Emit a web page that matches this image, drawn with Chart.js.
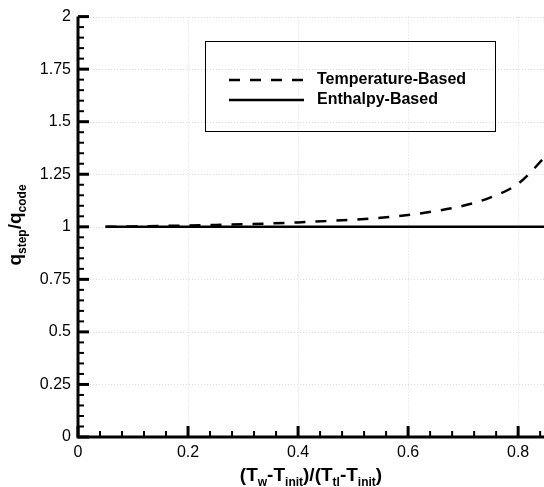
<!DOCTYPE html>
<html>
<head>
<meta charset="utf-8">
<script src="https://cdn.jsdelivr.net/npm/chart.js@4/dist/chart.umd.min.js"></script>
<style>
  html, body { margin: 0; padding: 0; background: #fff; }
  #wrap { width: 544px; height: 487px; }
</style>
</head>
<body>
<div id="wrap"><canvas id="chart" width="544" height="487"></canvas></div>
<script>
// values
const xTemp = [0.05, 0.1, 0.15, 0.2, 0.25, 0.3, 0.35, 0.4, 0.45, 0.5, 0.55, 0.6, 0.65, 0.7, 0.75, 0.8, 0.85];
const tempBased = [1.000, 1.002, 1.004, 1.006, 1.009, 1.012, 1.016, 1.021, 1.027, 1.034, 1.043, 1.056, 1.075, 1.100, 1.140, 1.205, 1.335];
const xEnth = [0.05, 0.85];
const enthBased = [1, 1];
const xTicks = [0, 0.2, 0.4, 0.6, 0.8];
const yTicks = ['0', '0.25', '0.5', '0.75', '1', '1.25', '1.5', '1.75', '2'];
const seriesNames = ['Temperature-Based', 'Enthalpy-Based'];

const FONT = '"Liberation Sans", Arial, sans-serif';

function pts(xs, ys) {
  return xs.map((x, i) => ({ x: x, y: ys[i] }));
}

// draws text with subscripts, parts = [[text, isSub], ...]
function drawRich(c, parts, x, y, size, subSize) {
  let w = 0;
  parts.forEach(p => {
    c.font = 'bold ' + (p[1] ? subSize : size) + 'px ' + FONT;
    w += c.measureText(p[0]).width;
  });
  let cx = x - w / 2;
  parts.forEach(p => {
    c.font = 'bold ' + (p[1] ? subSize : size) + 'px ' + FONT;
    c.fillText(p[0], cx, p[1] ? y + size * 0.25 : y);
    cx += c.measureText(p[0]).width;
  });
}

const framePlugin = {
  id: 'frame',
  beforeDatasetsDraw(chart) {
    const c = chart.ctx, a = chart.chartArea;
    const xs = chart.scales.x, ys = chart.scales.y;
    c.save();
    c.strokeStyle = '#dcdcdc';
    c.lineWidth = 1;
    c.setLineDash([1, 2]);
    xTicks.forEach(v => {
      const px = Math.round(xs.getPixelForValue(v)) + 0.5;
      c.beginPath(); c.moveTo(px, a.top); c.lineTo(px, a.bottom); c.stroke();
    });
    yTicks.forEach(t => {
      const py = Math.round(ys.getPixelForValue(parseFloat(t))) + 0.5;
      c.beginPath(); c.moveTo(a.left, py); c.lineTo(a.right, py); c.stroke();
    });
    c.restore();
  },
  afterDatasetsDraw(chart) {
    const c = chart.ctx, a = chart.chartArea;
    const xs = chart.scales.x, ys = chart.scales.y;
    c.save();
    c.strokeStyle = '#000';
    // minor + major ticks, pointing inwards
    for (let i = 0; i * 0.04 <= xs.max + 1e-9; i++) {
      const major = i % 5 === 0;
      const px = xs.getPixelForValue(i * 0.04);
      c.lineWidth = major ? 3 : 2;
      c.beginPath(); c.moveTo(px, a.bottom); c.lineTo(px, a.bottom - (major ? 11 : 6)); c.stroke();
    }
    for (let i = 0; i <= 40; i++) {
      const major = i % 5 === 0;
      const py = ys.getPixelForValue(i * 0.05);
      c.lineWidth = major ? 3 : 2;
      c.beginPath(); c.moveTo(a.left, py); c.lineTo(a.left + (major ? 11 : 6), py); c.stroke();
    }
    // axis lines
    c.lineWidth = 3;
    c.beginPath();
    c.moveTo(a.left, a.top);
    c.lineTo(a.left, a.bottom);
    c.lineTo(a.right + 2, a.bottom);
    c.stroke();

    // legend box
    c.lineWidth = 1;
    c.setLineDash([]);
    c.strokeRect(205.5, 41.5, 290, 90);
    const ds = chart.data.datasets;
    [80, 100].forEach((ly, i) => {
      c.lineWidth = ds[i].borderWidth;
      c.setLineDash(ds[i].borderDash || []);
      c.beginPath(); c.moveTo(229, ly); c.lineTo(304, ly); c.stroke();
      c.setLineDash([]);
      c.fillStyle = '#000';
      c.font = 'bold 16px ' + FONT;
      c.textBaseline = 'middle';
      c.textAlign = 'left';
      c.fillText(ds[i].label, 317, ly);
    });

    // axis titles
    c.textBaseline = 'alphabetic';
    c.textAlign = 'left';
    drawRich(c, [['(T', 0], ['w', 1], ['-T', 0], ['init', 1], [')/(T', 0], ['tl', 1], ['-T', 0], ['init', 1], [')', 0]],
      (a.left + a.right) / 2, 481, 19, 12);
    c.translate(21, 225);
    c.rotate(-Math.PI / 2);
    drawRich(c, [['q', 0], ['step', 1], ['/q', 0], ['code', 1]], 0, 0, 19, 12);
    c.restore();
  }
};

new Chart(document.getElementById('chart'), {
  type: 'line',
  data: {
    datasets: [
      {
        label: seriesNames[0],
        data: pts(xTemp, tempBased),
        borderColor: '#000',
        borderWidth: 2.5,
        borderDash: [11, 10],
        cubicInterpolationMode: 'monotone',
        pointRadius: 0,
        fill: false
      },
      {
        label: seriesNames[1],
        data: pts(xEnth, enthBased),
        borderColor: '#000',
        borderWidth: 2.5,
        pointRadius: 0,
        fill: false
      }
    ]
  },
  options: {
    responsive: false,
    animation: false,
    layout: { padding: { top: 11, right: 0, left: 0, bottom: 0 } },
    plugins: { legend: { display: false }, tooltip: { enabled: false } },
    scales: {
      x: {
        type: 'linear',
        min: 0,
        max: 0.847,
        afterFit: s => { s.height = 50; },
        afterBuildTicks: s => { s.ticks = xTicks.map(v => ({ value: v })); },
        grid: { display: false, drawTicks: false, tickLength: 0 },
        border: { display: false },
        ticks: {
          color: '#000',
          font: { family: FONT, size: 16 },
          padding: 6,
          maxRotation: 0,
          callback: v => String(v)
        }
      },
      y: {
        type: 'linear',
        min: 0,
        max: 2,
        afterFit: s => { s.width = 78; },
        afterBuildTicks: s => { s.ticks = yTicks.map(t => ({ value: parseFloat(t) })); },
        grid: { display: false, drawTicks: false, tickLength: 0 },
        border: { display: false },
        ticks: {
          color: '#000',
          font: { family: FONT, size: 16 },
          padding: 7,
          callback: (v, i) => yTicks[i]
        }
      }
    }
  },
  plugins: [framePlugin]
});
</script>
</body>
</html>
